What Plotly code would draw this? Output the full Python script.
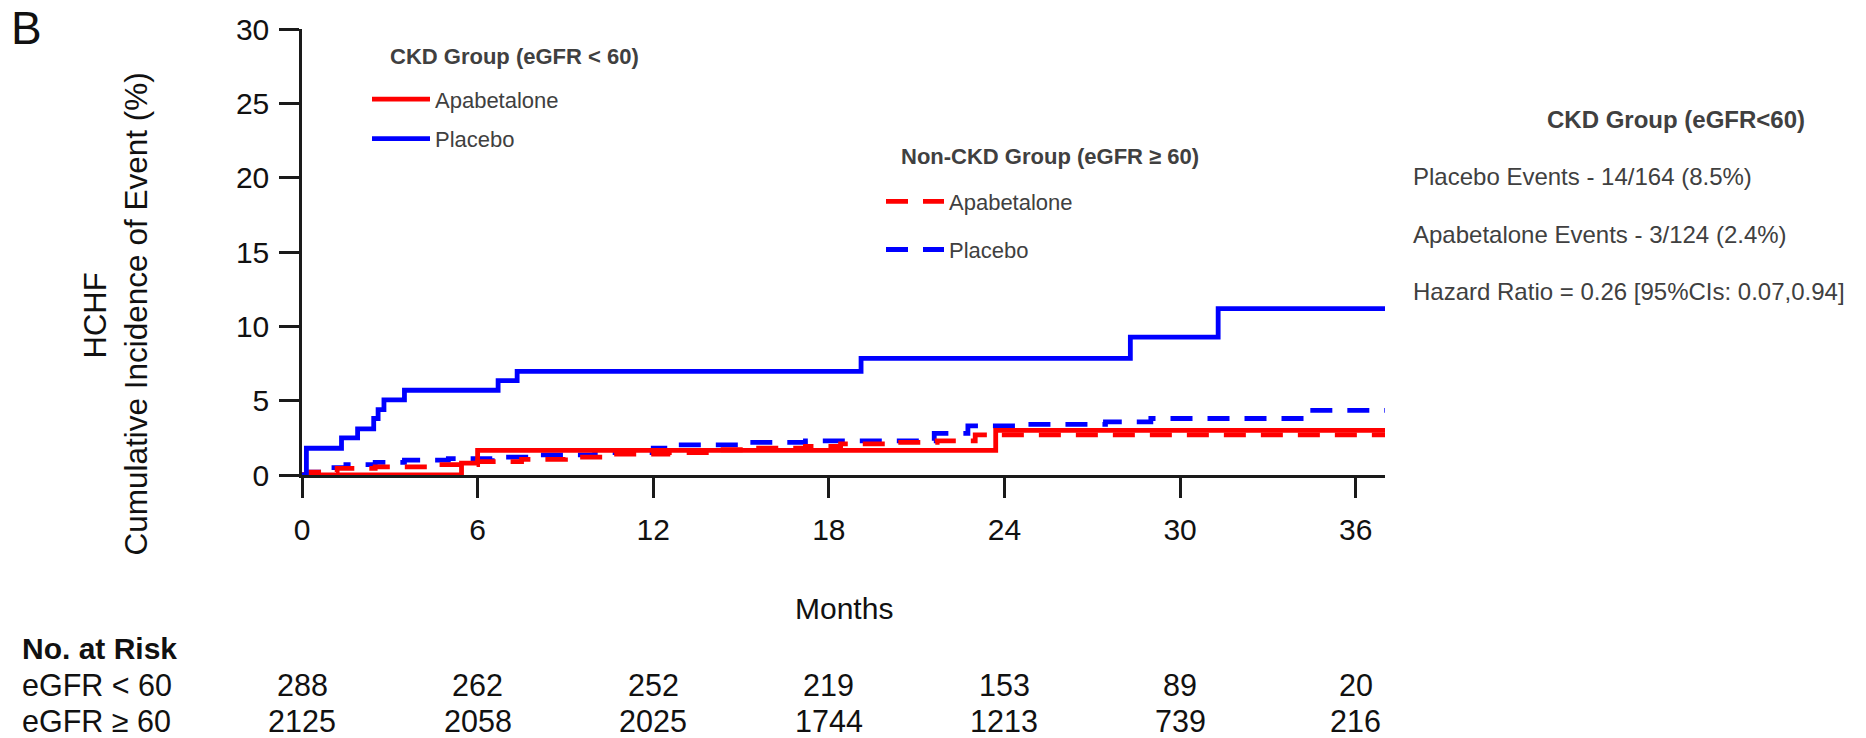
import plotly.graph_objects as go

# Cumulative incidence (%) of HCHF by month, Kaplan-Meier style step curves
ckd_placebo_t = [0, 0.15, 1.35, 1.9, 2.45, 2.6, 2.8, 3.5, 6.7, 7.35, 19.1, 28.3, 31.3, 37.0]
ckd_placebo_v = [0, 1.8, 2.5, 3.1, 3.8, 4.4, 5.05, 5.7, 6.35, 6.97, 7.84, 9.27, 11.19, 11.19]

ckd_apa_t = [0, 5.45, 6.0, 23.7, 37.0]
ckd_apa_v = [0, 0.8, 1.65, 3.0, 3.0]

nonckd_placebo_t = [0, 0.3, 0.8, 1.5, 2.5, 3.5, 5.0, 6.5, 8.0, 10.0, 12.0, 12.8, 15.4, 17.2,
                    21.6, 22.75, 24.5, 27.45, 29.0, 34.3, 37.0]
nonckd_placebo_v = [0, 0.2, 0.5, 0.7, 0.85, 1.0, 1.1, 1.2, 1.35, 1.5, 1.8, 2.03, 2.2, 2.3,
                    2.8, 3.3, 3.4, 3.58, 3.8, 4.35, 4.35]

nonckd_apa_t = [0, 0.3, 1.2, 2.5, 4.5, 6.0, 7.5, 9.0, 10.5, 12.5, 13.9, 15.4, 17.2, 18.4,
                20.0, 21.7, 23.0, 37.0]
nonckd_apa_v = [0, 0.2, 0.45, 0.55, 0.7, 0.9, 1.05, 1.2, 1.4, 1.5, 1.7, 1.8, 1.92, 2.1,
                2.2, 2.3, 2.7, 2.7]

# Numbers at risk
risk_months = [0, 6, 12, 18, 24, 30, 36]
risk_lt60 = [288, 262, 252, 219, 153, 89, 20]
risk_ge60 = [2125, 2058, 2025, 1744, 1213, 739, 216]
risk_rows = ["eGFR < 60", "eGFR \u2265 60"]

legend_titles = ["CKD Group (eGFR < 60)", "Non-CKD Group (eGFR \u2265 60)"]

summary_title = "CKD Group (eGFR<60)"
summary_lines = [
    "Placebo Events - 14/164 (8.5%)",
    "Apabetalone Events - 3/124 (2.4%)",
    "Hazard Ratio = 0.26 [95%CIs: 0.07,0.94]",
]

RED = "#FF0000"
BLUE = "#0000FF"
FONT = "Liberation Sans, Arial, sans-serif"
TXT = "#404040"
INK = "#111111"
W, H = 1866, 738
L, R, T, B = 302, 481, 22, 263
PW, PH = W - L - R, H - T - B


def px_x(px):
    return (px - L) / PW


def px_y(py):
    return (H - B - py) / PH


fig = go.Figure()
dash = "22px,15px"
LW = 4.8
fig.add_trace(go.Scatter(x=nonckd_placebo_t, y=nonckd_placebo_v, mode="lines", line_shape="hv",
                         line=dict(color=BLUE, width=LW, dash=dash), name="Placebo",
                         legend="legend2", legendgroup="g4", legendrank=2))
fig.add_trace(go.Scatter(x=nonckd_apa_t, y=nonckd_apa_v, mode="lines", line_shape="hv",
                         line=dict(color=RED, width=LW, dash=dash), name="Apabetalone",
                         legend="legend2", legendgroup="g3", legendrank=1))
fig.add_trace(go.Scatter(x=ckd_apa_t, y=ckd_apa_v, mode="lines", line_shape="hv",
                         line=dict(color=RED, width=LW), name="Apabetalone",
                         legend="legend", legendgroup="g1", legendrank=1))
fig.add_trace(go.Scatter(x=ckd_placebo_t, y=ckd_placebo_v, mode="lines", line_shape="hv",
                         line=dict(color=BLUE, width=LW), name="Placebo",
                         legend="legend", legendgroup="g2", legendrank=2))

ann = []
# panel letter
ann.append(dict(text="B", xref="paper", yref="paper", x=px_x(26), y=px_y(21),
                showarrow=False, font=dict(size=46, color=INK, family=FONT),
                xanchor="center", yanchor="middle"))
# y-axis title (two lines)
ann.append(dict(text="HCHF", xref="paper", yref="paper", x=px_x(96), y=px_y(313),
                textangle=-90, showarrow=False, font=dict(size=31, color=INK, family=FONT),
                xanchor="center", yanchor="middle"))
ann.append(dict(text="Cumulative Incidence of Event (%)", xref="paper", yref="paper",
                x=px_x(136), y=px_y(312), textangle=-90, showarrow=False,
                font=dict(size=31.5, color=INK, family=FONT), xanchor="center", yanchor="middle"))
# x-axis title
ann.append(dict(text="Months", xref="paper", yref="paper", x=0.5, y=px_y(611),
                showarrow=False, font=dict(size=30, color=INK, family=FONT),
                xanchor="center", yanchor="middle"))
# legend group headings
ann.append(dict(text="<b>" + legend_titles[0] + "</b>", xref="paper", yref="paper",
                x=px_x(388), y=px_y(50), showarrow=False,
                font=dict(size=22, color=TXT, family=FONT), xanchor="left", yanchor="middle"))
ann.append(dict(text="<b>" + legend_titles[1] + "</b>", xref="paper", yref="paper",
                x=px_x(899), y=px_y(152), showarrow=False,
                font=dict(size=22, color=TXT, family=FONT), xanchor="left", yanchor="middle"))
# risk table
ann.append(dict(text="<b>No. at Risk</b>", xref="paper", yref="paper", x=px_x(20), y=px_y(651),
                showarrow=False, font=dict(size=30, color=INK, family=FONT),
                xanchor="left", yanchor="middle"))
for row_label, row_vals, ypx in [(risk_rows[0], risk_lt60, 688), (risk_rows[1], risk_ge60, 725)]:
    ann.append(dict(text=row_label, xref="paper", yref="paper", x=px_x(20), y=px_y(ypx),
                    showarrow=False, font=dict(size=30.5, color=INK, family=FONT),
                    xanchor="left", yanchor="middle"))
    for m, v in zip(risk_months, row_vals):
        ann.append(dict(text=str(v), xref="x", yref="paper", x=m, y=px_y(ypx),
                        showarrow=False, font=dict(size=30.5, color=INK, family=FONT),
                        xanchor="center", yanchor="middle"))
# summary block on the right
ann.append(dict(text="<b>" + summary_title + "</b>", xref="paper", yref="paper",
                x=px_x(1676), y=px_y(114), showarrow=False,
                font=dict(size=24, color=TXT, family=FONT), xanchor="center", yanchor="middle"))
for line, ypx in zip(summary_lines, [172, 231, 289]):
    ann.append(dict(text=line, xref="paper", yref="paper", x=px_x(1411), y=px_y(ypx),
                    showarrow=False, font=dict(size=24, color=TXT, family=FONT),
                    xanchor="left", yanchor="middle"))

axis_common = dict(showline=True, linecolor="#1a1a1a", linewidth=2.5, ticks="outside",
                   ticklen=20, tickwidth=2.5, tickcolor="#1a1a1a", showgrid=False,
                   zeroline=False, tickfont=dict(size=30, color=INK, family=FONT))

fig.update_layout(
    width=W, height=H,
    margin=dict(l=L, r=R, t=T, b=B),
    paper_bgcolor="white", plot_bgcolor="white",
    font=dict(family=FONT),
    xaxis=dict(range=[0, 37], tickvals=risk_months, ticklabelstandoff=6, **axis_common),
    yaxis=dict(range=[0, 30], tickvals=[0, 5, 10, 15, 20, 25, 30], ticklabelstandoff=4,
               **axis_common),
    legend=dict(x=px_x(367), y=px_y(72), xanchor="left", yanchor="top",
                font=dict(size=22, color=TXT, family=FONT), itemwidth=58,
                tracegroupgap=8, bgcolor="rgba(0,0,0,0)", traceorder="grouped"),
    legend2=dict(x=px_x(881), y=px_y(176), xanchor="left", yanchor="top",
                 font=dict(size=22, color=TXT, family=FONT), itemwidth=58,
                 tracegroupgap=16.5, bgcolor="rgba(0,0,0,0)", traceorder="grouped"),
    annotations=ann,
)

fig.write_html("out.html")
